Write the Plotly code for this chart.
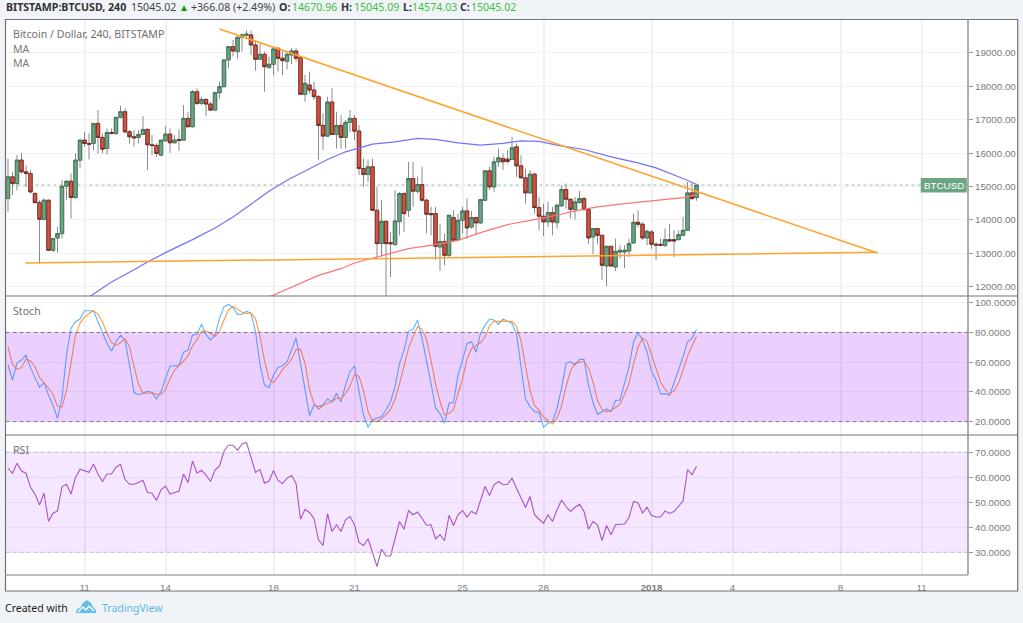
import pandas as pd
import plotly.graph_objects as go

W, H = 1023, 623
# --- Data (4h bars, offsets from 11 Dec 2017 00:00) ---
bar_first, bar_last = -17, 136
opens = [14640,15290,15090,15790,15440,15390,14790,14520,14020,14590,13090,13460,13590,15010,15160,14670,15790,
16390,16290,16290,16890,16470,16140,16620,16590,17070,17240,
16640,16490,16470,16560,16710,16250,16230,15940,16370,16570,
16310,16410,16390,17040,16790,17840,17490,17610,17470,17290,
17810,17990,18790,19190,19040,19470,19530,19540,19240,18810,
18960,18560,18660,19140,18840,18750,18940,19060,18860,17760,
18040,17890,17690,16830,16510,17530,16560,16830,16470,16920,
17040,16660,15540,15360,15590,14290,13290,13960,13320,13260,
13950,14790,14290,15240,14860,15060,14590,14190,14190,13190,
13350,12940,14070,13410,13990,14270,13790,14070,13910,14590,
15470,14990,15740,15840,15820,15810,16190,15620,15260,14810,
15370,14370,14110,13940,14220,13920,14420,14910,14620,14310,
14520,14640,14310,13490,13740,13540,12620,13210,12590,13040,
13040,13070,13310,13930,13870,13460,13640,13270,13270,13240,
13410,13410,13410,13540,13690,14810,14670.96]
highs = [15840,15440,15940,16010,15640,15490,14840,14590,14640,14610,13440,13790,15190,15190,15390,15990,16390,
16640,16590,16890,17290,16590,16740,16740,17090,17420,17340,
16690,16690,16690,17110,16740,16540,16290,16390,16810,16740,
16540,16710,17440,17240,17890,17940,17690,17640,17540,17840,
18140,18810,19190,19390,19470,19590,19670,19670,19390,19290,
19040,18890,19160,19170,19040,19040,19160,19140,18890,18340,
18440,18140,17740,17190,17690,17940,17240,17140,16990,17290,
17140,16840,15840,15810,15840,14990,14590,13960,13640,14890,
14840,14840,15740,15740,15290,15590,14640,14390,14390,13890,
13590,14140,14290,14190,14390,14640,14270,14090,14610,15490,
15590,15890,16140,15990,16090,16490,16290,15940,15540,15490,
15410,14690,14490,14540,14390,14490,15040,15090,14640,14690,
14870,14690,14340,13760,13740,13560,13210,13210,13440,13240,
13240,13440,14190,14290,13940,13710,13690,13340,13440,13740,
13890,13690,13690,14090,15140,15110,15045.09]
lows = [14240,14740,14890,15390,14990,14790,14490,12690,13990,13070,13040,13020,13440,14590,14040,14640,15540,
16190,15810,16090,15990,15990,15960,16560,16540,17040,16590,
16290,16190,16290,16540,15490,15940,15890,15910,16340,16010,
16290,16070,16370,16770,16770,17440,17440,17120,17270,17270,
17640,17970,18540,18890,18840,19040,19440,18940,18470,18790,
17840,18540,18340,18440,18340,18510,18670,18740,17740,17540,
17770,17590,15790,16090,16490,16540,16140,16140,16140,16640,
16390,15340,14990,15140,14270,12840,12890,11710,12290,13240,
13540,13640,14090,14390,14790,14540,13590,13540,12810,12470,
12640,12890,13370,13390,13590,13440,13740,13540,13890,14570,
14890,14840,15590,15490,15690,15790,15290,15240,14490,14790,
14190,13690,13510,13790,13540,13740,14390,14340,14040,14010,
14490,14270,13290,12970,13290,12210,12020,12590,12470,12840,
12560,12890,13290,13790,13410,13240,13140,12790,13240,13190,
13340,12890,13390,13520,13670,14590,14574.03]
closes = [15290,15090,15790,15440,15390,14840,14520,14020,14590,13090,13440,13590,15010,15160,14670,15790,16390,
16290,16270,16890,16470,16120,16620,16590,17070,17240,16640,
16490,16460,16560,16710,16250,16230,15990,16390,16570,16310,
16390,16380,17040,16790,17840,17490,17610,17470,17290,17810,
17990,18790,19190,19060,19470,19540,19560,19240,18810,18960,
18590,18660,19120,18840,18770,18960,19060,18840,17760,18090,
17890,17690,16830,16510,17530,16560,16830,16470,16920,17040,
16660,15540,15360,15590,14290,13290,13960,13290,13290,13970,
14790,14190,15240,14860,15060,14590,14170,14160,13210,13350,
12940,14140,13390,13990,14270,13760,14070,13910,14610,15470,
14990,15740,15860,15740,15750,16160,15620,15260,14810,15370,
14370,14110,13940,14220,13940,14440,14910,14620,14320,14540,
14640,14310,13460,13740,13540,12640,13210,12620,13060,13090,
13090,13290,13930,13870,13460,13660,13270,13250,13240,13410,
13370,13370,13560,13690,14810,14640,15045.02]

ma_fast_bars = [1,6,11,14,18,24,29,33,37,41,45,49,54,58,60,64,69,74,78,83,88,93,97,101,105,111,117,123,127,130,133,136]
ma_fast_vals = [11690,12140,12510,12740,13020,13410,13760,14090,14470,14860,15190,15470,15810,16040,16120,16270,16340,16440,16410,16310,16240,16290,16370,16350,16240,16110,15890,15710,15560,15410,15240,15070]
ma_slow_bars = [41,48,52,57,60,65,68,72,78,83,88,94,100,105,109,114,120,128,133,136]
ma_slow_vals = [11690,12090,12340,12540,12710,12890,12990,13140,13260,13390,13620,13860,14010,14140,14270,14390,14490,14590,14670,14760]

trend_bars = [30, 176.2]
trend_vals = [19720, 13010]
support_bars = [-13.1, 176.2]
support_vals = [12710, 13030]
last_price = 15045.02

stoch_k = [58.1,48,59.6,61.4,64.8,56.3,49.6,43.1,46.2,37.9,31.2,22.2,35.7,64.8,82.7,87.2,89,94.6,94.6,94.6,
87.2,79.3,72.6,67.5,73.7,78.2,74.8,58.1,39.7,37.9,39,40.4,39.7,35.2,40.2,49.1,57.4,57.4,58.1,66.6,
68.1,78.2,78.7,85.6,78.7,74.8,78.2,89.4,97.2,98.8,96.6,92.1,92.1,94.3,92.8,80.5,58.1,44.6,42.8,51.3,
56.5,57.6,60.3,68.1,76.4,59.2,41.3,24,31.2,30.1,31.2,35.2,33.4,39,33.4,44.6,53.6,
57.6,40.2,24.5,16.2,21.1,22.2,23.4,27.8,33.4,43.5,59.2,68.1,80.9,82,88.3,76,61.4,45.8,29,25.6,
18.9,32.3,33,51.3,61.4,72.6,73.7,66.6,79.3,84.9,89,88.3,85.4,89,87.6,86,78.7,58.1,35.2,30.1,
26.7,26.3,16.2,18.9,20,29,42.4,59.2,60.3,58.1,61.9,61.9,44.6,33,24.9,26.7,28.5,26.7,34.3,34.5,
45.8,57,73.7,80,74.8,67,53.6,48,38.6,38.8,37.7,45.8,54.7,63.7,73.7,76,82]
stoch_d = [70.4,58.5,55.2,56.3,62,60.8,56.9,49.7,46.3,42.4,38.4,30.4,29.7,40.9,61.1,78.2,86.3,90.3,92.7,94.6,
92.1,87,79.4,73.1,71.3,73.1,75.7,70.4,57.2,45.2,38.9,39.1,39.4,38.4,38.4,41.5,48.9,54.6,57.6,60.7,
64.3,71,75,80.8,81,79.4,77.2,80.8,88.3,95.1,97.5,95.8,93.6,92.8,93.2,89.2,77.1,61.1,48.5,46.2,
50.2,55.1,58.1,62,68.3,68.7,59.3,41.5,32.2,28.4,30.8,32.2,33.3,35.9,35.3,39,43.9,51.9,50.5,40.8,
26.9,20.6,19.8,22.2,24.5,28.2,34.9,45.4,57,69.4,77.2,84,82.1,75.2,61.1,45.4,33.5,24.5,25.6,28.1,
38.9,48.6,61.8,69.2,71,73.2,76.9,84.4,87.4,87.6,87.6,87.3,87.5,84,74.3,57.3,41.1,30.7,27.7,23.1,
20.5,18.4,22.6,30.5,43.5,54,59.2,60.1,60.6,56.1,46.5,34.2,28.2,26.7,27.3,29.5,31.8,38.2,45.8,58.8,
70.2,76.2,74,65.1,56.2,46.7,41.8,38.4,40.8,46.1,54.7,64,71.1,77.2]
rsi = [63.6,61.6,65.6,62.5,61.6,56,53.3,48.9,53.6,42.3,45.6,46.5,56.3,57.2,53.3,59.9,63.2,62.5,62,65.3,
61.2,58.3,61.3,61.3,64,65.2,59.2,57.2,57.2,57.9,58.8,53.9,53.6,50.7,55,56.5,53.3,53.9,54.4,61.3,
57.9,66.5,61.6,62.8,60.9,58.3,62.9,64.5,70.5,72.8,72.8,70.8,73.3,73.9,68.3,61.9,63.1,57.6,58.5,62.7,
58.7,57.5,59.6,60.7,57.6,43.2,47.2,45.9,43.4,35,32.7,45.4,38.3,41,38.3,43,44.3,
41,33.9,32.7,35.4,29.6,24.3,31.2,28.5,28.5,35.2,42.3,39.2,46.7,45,46.1,43.6,40.8,41,35.4,37,
34.6,44.8,40.7,45,46.7,44.1,46.4,45.2,50.7,56.3,52.7,57,58.3,57,57.2,59.6,55.6,51.9,47.9,52.3,
45,43.2,41.6,45,42.3,47,50.9,48.3,46.3,48,49.2,46.3,39.2,42.3,41,34.7,40.7,37,41,41.2,
41.3,43.9,50.3,49.7,45.7,48,44.7,44.1,44.1,46.5,45.5,46.3,48.5,50.5,63.1,61,64.4]

price_ticks = [12000,13000,14000,15000,16000,17000,18000,19000]
stoch_ticks = [20,40,60,80,100]
rsi_ticks = [30,40,50,60,70]
date_ticks = ["2017-12-11","2017-12-14","2017-12-18","2017-12-21","2017-12-25","2017-12-28","2018-01-01","2018-01-04","2018-01-08","2018-01-11"]
date_labels = ["11","14","18","21","25","28","<b>2018</b>","4","8","11"]

# --- Helpers ---
base = pd.Timestamp("2017-12-11")
def bar_time(b):
    return base + pd.to_timedelta(b * 4, unit="h")
bars = list(range(bar_first, bar_last + 1))
times = [bar_time(b) for b in bars]
for series in (opens, highs, lows, closes, stoch_k, stoch_d, rsi):
    assert len(series) == len(bars), len(series)
def px(p): return p / W
def py(p): return 1 - p / H

GRID = "#f1f1f1"; AXIS = "#6f7276"; TXT = "#7b7b7b"
AF = "Liberation Sans"; HF = "Noto Sans"

fig = go.Figure()
# wicks (grey) then bodies with dark outlines
fig.add_trace(go.Candlestick(x=times, open=opens, high=highs, low=lows, close=closes, whiskerwidth=0,
    increasing=dict(line=dict(color="#8b8b8d", width=1), fillcolor="#6ba583"),
    decreasing=dict(line=dict(color="#8b8b8d", width=1), fillcolor="#d75442"), showlegend=False, hoverinfo="skip"))
body_hi = [max(o, c) for o, c in zip(opens, closes)]
body_lo = [min(o, c) for o, c in zip(opens, closes)]
fig.add_trace(go.Candlestick(x=times, open=opens, high=body_hi, low=body_lo, close=closes, whiskerwidth=0,
    increasing=dict(line=dict(color="#3a6e50", width=0.8), fillcolor="#6ba583"),
    decreasing=dict(line=dict(color="#6b2219", width=0.8), fillcolor="#d75442"), showlegend=False, hoverinfo="skip"))
def line(xs, ys, color, width, yaxis="y"):
    fig.add_trace(go.Scatter(x=xs, y=ys, mode="lines", yaxis=yaxis, showlegend=False, hoverinfo="skip",
                             line=dict(color=color, width=width)))
line([bar_time(b) for b in ma_fast_bars], ma_fast_vals, "#7272ff", 1.2)
line([bar_time(b) for b in ma_slow_bars], ma_slow_vals, "#ff7474", 1.2)
line([bar_time(b) for b in trend_bars], trend_vals, "#ffa22e", 1.5)
line([bar_time(b) for b in support_bars], support_vals, "#ffa22e", 1.5)
line(times, stoch_k, "#58b8ff", 1.1, "y2")
line(times, stoch_d, "#ff9a3c", 1.1, "y2")
line(times, rsi, "#aa5cc3", 1.1, "y3")

def yax(dom, rng, ticks, fmt):
    return dict(domain=[py(dom[1]), py(dom[0])], range=rng, side="right", anchor="x", tickmode="array", tickvals=ticks,
                tickformat=fmt, ticks="outside", ticklen=4, tickcolor="#9a9a9a", showline=False, showgrid=True,
                gridcolor=GRID, gridwidth=1.3, zeroline=False, tickfont=dict(family=AF, size=9.8, color=TXT))

fig.update_layout(
    width=W, height=H, margin=dict(l=0, r=0, t=0, b=0, autoexpand=False),
    paper_bgcolor="#f0f3f7", plot_bgcolor="#ffffff", showlegend=False, boxmode="overlay", boxgap=0.13, boxgroupgap=0.13,
    xaxis=dict(domain=[px(5.5), px(968)], type="date", range=["2017-12-08 01:47", "2018-01-12 17:17"], anchor="y3",
               rangeslider=dict(visible=False), tickmode="array", tickvals=date_ticks, ticktext=date_labels,
               showgrid=True, gridcolor=GRID, gridwidth=1.5, ticks="outside", ticklen=3, tickcolor="rgba(0,0,0,0)",
               tickfont=dict(family=AF, size=9.8, color=TXT), zeroline=False, showline=False),
    yaxis=yax((19.5, 296), [11722, 20002], price_ticks, ".2f"),
    yaxis2=yax((296, 435), [11, 104.5], stoch_ticks, ".4f"),
    yaxis3=yax((435, 575), [20.9, 76.9], rsi_ticks, ".4f"),
)

def rect(x0, y0, x1, y1, fill=None, lw=0, lc=AXIS, layer="above"):
    return dict(type="rect", xref="paper", yref="paper", x0=px(x0), x1=px(x1), y0=py(y0), y1=py(y1),
                fillcolor=fill or "rgba(0,0,0,0)", line=dict(width=lw, color=lc), layer=layer)
def seg(x0, y0, x1, y1, color=AXIS, w=1.2):
    return dict(type="line", xref="paper", yref="paper", x0=px(x0), x1=px(x1), y0=py(y0), y1=py(y1),
                line=dict(color=color, width=w), layer="above")
def band(axis, lo, hi, fill, dash_color):
    out = [dict(type="rect", xref="x domain", yref=axis, x0=0, x1=1, y0=lo, y1=hi, fillcolor=fill,
                line=dict(width=0), layer="above")]
    for v in (lo, hi):
        out.append(dict(type="line", xref="x domain", yref=axis, x0=0, x1=1, y0=v, y1=v, layer="above",
                        line=dict(color=dash_color, width=1, dash="4px,3px")))
    return out

def cloud(x, y, s):
    pts = [(0,13),(1,9),(4,8),(7,3),(11,0),(15,3),(17,7),(20,10),(20,13)]
    return "M " + " L ".join(f"{px(x+a*s):.5f},{py(y+b*s):.5f}" for a, b in pts) + " Z"
def zig(x, y, s):
    pts = [(2,12),(7,7),(10,10),(13,6),(18,11)]
    return "M " + " L ".join(f"{px(x+a*s):.5f},{py(y+b*s):.5f}" for a, b in pts)

shapes = [rect(5.5, 19.5, 1017.7, 591, fill="#ffffff", layer="below")]
shapes += [dict(type="line", xref="x domain", yref="y", x0=0, x1=1, y0=last_price, y1=last_price, layer="below",
                line=dict(color="#8fbfa3", width=1, dash="dot"))]
shapes += band("y2", 20, 80, "rgba(153,21,255,0.2)", "#7d7388")
shapes += band("y3", 30, 70, "rgba(153,21,255,0.1)", "#c8b4d4")
shapes += [rect(5.5, 19.5, 1017.7, 591, lw=1.2),
           seg(5.5, 296, 1017.7, 296), seg(5.5, 435, 1017.7, 435),
           seg(5.5, 575, 968, 575, "#a9a9a9", 1.6), seg(968, 19.5, 968, 575, "#8c8c8c", 1.4),
           rect(920.7, 178, 966.8, 192.5, fill="#6ba583"),
           dict(type="path", xref="paper", yref="paper", path=cloud(76, 600, 1), fillcolor="#62bfea",
                line=dict(width=0), layer="above"),
           dict(type="path", xref="paper", yref="paper", path=zig(76, 600, 1), line=dict(color="#ffffff", width=1.4),
                layer="above")]
fig.update_layout(shapes=shapes)

def note(x, y, text, color="#444", size=10.6, bold=False, font=HF, anchor="left"):
    fig.add_annotation(xref="paper", yref="paper", x=px(x), y=py(y), text=f"<b>{text}</b>" if bold else text,
                       showarrow=False, xanchor=anchor, yanchor="middle", borderpad=0,
                       font=dict(family=font, size=size, color=color))
GREEN = "#3ec23e"
note(5, 7.5, "BITSTAMP:BTCUSD, 240", "#333", bold=True)
note(129.5, 7.5, "15045.02", "#444")
note(177.5, 7.5, "▲", "#0a9a0a", size=10)
note(189.5, 7.5, "+366.08 (+2.49%)", "#444")
note(278, 7.5, "O:", "#333", bold=True)
note(290.5, 7.5, "14670.96", GREEN)
note(340, 7.5, "H:", "#333", bold=True)
note(352.5, 7.5, "15045.09", GREEN)
note(401.5, 7.5, "L:", "#333", bold=True)
note(410.5, 7.5, "14574.03", GREEN)
note(459, 7.5, "C:", "#333", bold=True)
note(470, 7.5, "15045.02", GREEN)
note(12, 34, "Bitcoin / Dollar, 240, BITSTAMP", "#6f6f6f", size=10.6)
note(12, 48.5, "MA", "#7b7b7b", size=10.6)
note(12, 63, "MA", "#7b7b7b", size=10.6)
note(12, 311, "Stoch", "#6f6f6f", size=10.6)
note(12, 450, "RSI", "#6f6f6f", size=10.6)
note(943.7, 185.3, "BTCUSD", "#ffffff", size=9.8, font=AF, anchor="center")
note(4, 607.5, "Created with", "#222222", size=10.5)
note(101, 607.5, "TradingView", "#5cb8e6", size=10.5)

fig.write_html("out.html", config=dict(displayModeBar=False),
               post_script="document.body.style.margin='0';document.body.style.overflow='hidden';")
